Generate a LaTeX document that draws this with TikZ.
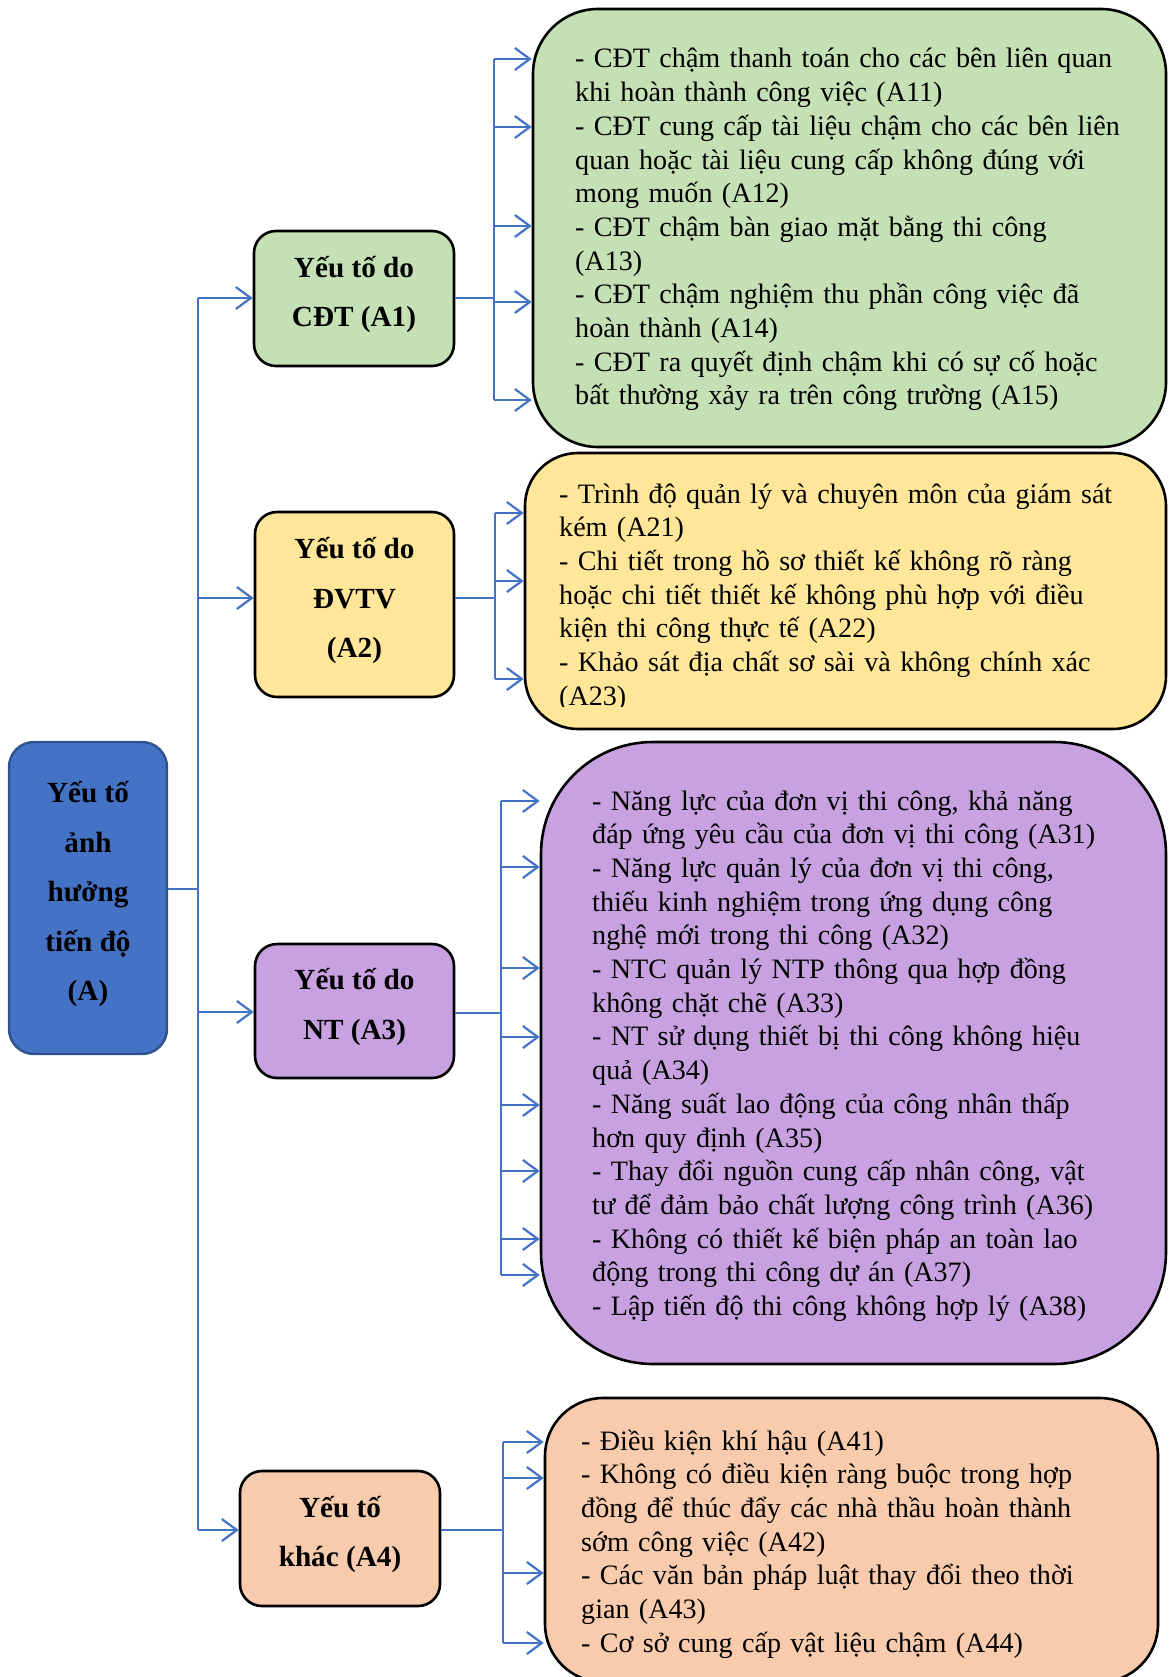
\documentclass[tikz,border=0pt]{standalone}
\usepackage{fontspec}
\setmainfont{Liberation Serif}
\usetikzlibrary{arrows.meta}
\definecolor{conn}{HTML}{4472C4}
\definecolor{rootline}{HTML}{2F528F}
\definecolor{grn}{HTML}{C5E0B4}
\definecolor{ylw}{HTML}{FFE699}
\definecolor{prp}{RGB}{200,162,224}
\definecolor{org}{HTML}{F8CBAD}
\begin{document}
\begin{tikzpicture}[x=1pt,y=-1pt,
  label box/.style={draw=black, line width=2.6pt, rounded corners=22pt, inner sep=0pt},
  label text/.style={align=center, inner sep=0pt, yshift=4pt,
    font=\fontsize{29.2}{49.5}\selectfont\bfseries},
  list box/.style={draw=black, line width=2.6pt, inner sep=0pt},
  list text/.style={anchor=base west, inner sep=0pt, align=left, text width=#1,
    font=\fontsize{28.1}{33.7}\selectfont},
  link/.style={draw=conn, line width=1.4pt},
  feed/.style={draw=conn, line width=2.2pt, -{Straight Barb[length=15pt,width=22pt,line width=2.2pt]}},
]
\useasboundingbox (0,0) rectangle (1168,1677);

% root factor
\node[label box, rounded corners=25pt, fill=conn, draw=rootline, line width=2.4pt,
  minimum width=158pt, minimum height=312pt] (root) at (88,898) {};
\node[label text] (rootl) at (root) {Yếu tố\\ảnh\\hưởng\\tiến độ\\(A)};

% factor groups
\node[label box, fill=grn, minimum width=200pt, minimum height=135pt] (a1) at (354,298.5) {};
\node[label text] (a1l) at (a1) {Yếu tố do\\CĐT (A1)};
\node[label box, fill=ylw, minimum width=199pt, minimum height=185pt] (a2) at (354.5,604.5) {};
\node[label text] (a2l) at (a2) {Yếu tố do\\ĐVTV\\(A2)};
\node[label box, fill=prp, minimum width=199pt, minimum height=134pt] (a3) at (354.5,1011) {};
\node[label text] (a3l) at (a3) {Yếu tố do\\NT (A3)};
\node[label box, fill=org, minimum width=200pt, minimum height=135pt] (a4) at (340,1538.5) {};
\node[label text] (a4l) at (a4) {Yếu tố\\khác (A4)};

% detail boxes
\node[list box, fill=grn, rounded corners=65pt, minimum width=633pt, minimum height=438pt] (b1) at (849.5,228) {};
\node[list box, fill=ylw, rounded corners=53pt, minimum width=641pt, minimum height=276pt] (b2) at (845.5,591) {};
\node[list box, fill=prp, rounded corners=112pt, minimum width=625pt, minimum height=622pt] (b3) at (853.5,1053) {};
\node[list box, fill=org, rounded corners=58pt, minimum width=613pt, minimum height=284pt] (b4) at (851.5,1540) {};

\node[list text=580pt] (t1) at (575,68)
  {- CĐT chậm thanh toán cho các bên liên quan\\
   khi hoàn thành công việc (A11)\\
   - CĐT cung cấp tài liệu chậm cho các bên liên\\
   quan hoặc tài liệu cung cấp không đúng với\\
   mong muốn (A12)\\
   - CĐT chậm bàn giao mặt bằng thi công\\
   (A13)\\
   - CĐT chậm nghiệm thu phần công việc đã\\
   hoàn thành (A14)\\
   - CĐT ra quyết định chậm khi có sự cố hoặc\\
   bất thường xảy ra trên công trường (A15)};

\begin{scope}
  \clip (525,453) rectangle (1166,706);
  \node[list text=600pt] (t2) at (559,503)
    {- Trình độ quản lý và chuyên môn của giám sát\\
     kém (A21)\\
     - Chi tiết trong hồ sơ thiết kế không rõ ràng\\
     hoặc chi tiết thiết kế không phù hợp với điều\\
     kiện thi công thực tế (A22)\\
     - Khảo sát địa chất sơ sài và không chính xác\\
     (A23)};
\end{scope}

\node[list text=560pt] (t3) at (592,810)
  {- Năng lực của đơn vị thi công, khả năng\\
   đáp ứng yêu cầu của đơn vị thi công (A31)\\
   - Năng lực quản lý của đơn vị thi công,\\
   thiếu kinh nghiệm trong ứng dụng công\\
   nghệ mới trong thi công (A32)\\
   - NTC quản lý NTP thông qua hợp đồng\\
   không chặt chẽ (A33)\\
   - NT sử dụng thiết bị thi công không hiệu\\
   quả (A34)\\
   - Năng suất lao động của công nhân thấp\\
   hơn quy định (A35)\\
   - Thay đổi nguồn cung cấp nhân công, vật\\
   tư để đảm bảo chất lượng công trình (A36)\\
   - Không có thiết kế biện pháp an toàn lao\\
   động trong thi công dự án (A37)\\
   - Lập tiến độ thi công không hợp lý (A38)};

\node[list text=560pt] (t4) at (581,1450)
  {- Điều kiện khí hậu (A41)\\
   - Không có điều kiện ràng buộc trong hợp\\
   đồng để thúc đẩy các nhà thầu hoàn thành\\
   sớm công việc (A42)\\
   - Các văn bản pháp luật thay đổi theo thời\\
   gian (A43)\\
   - Cơ sở cung cấp vật liệu chậm (A44)};

% trunk from the root to the four groups
\coordinate (j0) at (198,889);
\coordinate (jt) at (198,298);
\coordinate (j2) at (198,598);
\coordinate (j3) at (198,1012);
\coordinate (jb) at (198,1530);
\draw[link] (root.east |- j0) -- (j0);
\draw[link] (jt) -- (jb);
\draw[feed] (jt) -- (a1.west |- jt);
\draw[feed] (j2) -- (a2.west |- j2);
\draw[feed] (j3) -- (a3.west |- j3);
\draw[feed] (jb) -- (a4.west |- jb);

% fan-out A1
\coordinate (h1) at (494,298);
\coordinate (h1t) at (494,59);
\coordinate (h1b) at (494,400);
\draw[link] (a1.east |- h1) -- (h1);
\draw[link] (h1t) -- (h1b);
\foreach \y [count=\i] in {59,127,226,302,400} {
  \coordinate (p1\i) at (494,\y);
  \draw[feed] (p1\i) -- (b1.west |- p1\i);
}

% fan-out A2
\coordinate (h2) at (495,598);
\coordinate (h2t) at (495,513);
\coordinate (h2b) at (495,679);
\draw[link] (a2.east |- h2) -- (h2);
\draw[link] (h2t) -- (h2b);
\foreach \y [count=\i] in {513,581,679} {
  \coordinate (p2\i) at (495,\y);
  \draw[feed] (p2\i) -- (b2.west |- p2\i);
}

% fan-out A3
\coordinate (h3) at (501,1013);
\coordinate (h3t) at (501,801);
\coordinate (h3b) at (501,1275);
\draw[link] (a3.east |- h3) -- (h3);
\draw[link] (h3t) -- (h3b);
\foreach \y [count=\i] in {801,867,968,1037,1105,1171,1239,1275} {
  \coordinate (p3\i) at (501,\y);
  \draw[feed] (p3\i) -- (b3.west |- p3\i);
}

% fan-out A4
\coordinate (h4) at (503,1530);
\coordinate (h4t) at (503,1442);
\coordinate (h4b) at (503,1643);
\draw[link] (a4.east |- h4) -- (h4);
\draw[link] (h4t) -- (h4b);
\foreach \y [count=\i] in {1442,1478,1573,1643} {
  \coordinate (p4\i) at (503,\y);
  \draw[feed] (p4\i) -- (b4.west |- p4\i);
}
\end{tikzpicture}
\end{document}
